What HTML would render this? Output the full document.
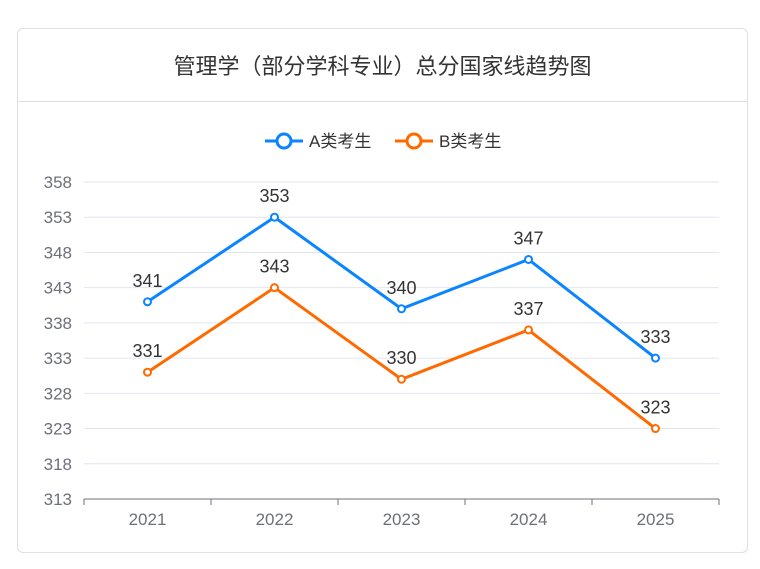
<!DOCTYPE html>
<html><head><meta charset="utf-8">
<style>
body{margin:0;background:#fff;width:760px;height:569px;overflow:hidden;font-family:"Liberation Sans","Noto Sans CJK SC",sans-serif;}
.card{position:absolute;left:17px;top:28px;width:731px;height:525px;border:1px solid #dcdfe6;border-radius:6px;box-sizing:border-box;}
.title{position:absolute;left:0;top:0;width:100%;height:72px;line-height:76px;text-align:center;font-size:22px;color:#333;border-bottom:1px solid #dcdfe6;}
svg{position:absolute;left:0;top:0;}
</style></head><body>
<div class="card">
<div class="title">管理学（部分学科专业）总分国家线趋势图</div>
</div>
<svg id="c" width="760" height="569"></svg>
<script>
const categories=["2021","2022","2023","2024","2025"];
const seriesA=[341,353,340,347,333];
const seriesB=[331,343,330,337,323];
const yTicks=[313,318,323,328,333,338,343,348,353,358];
const seriesNames=["A类考生","B类考生"];
const colors=["#0a84ff","#ff6a00"];
const svg=document.getElementById('c');
const NS='http://www.w3.org/2000/svg';
const x0=84,x1=719,yTop=182,yBot=499,ymin=313,ymax=358;
const band=(x1-x0)/categories.length;
const xS=i=>x0+band*(i+0.5);
const yS=v=>yBot-(v-ymin)/(ymax-ymin)*(yBot-yTop);
function mk(t,a,txt){const e=document.createElementNS(NS,t);for(const k in a)e.setAttribute(k,a[k]);if(txt!==undefined)e.textContent=txt;svg.appendChild(e);return e;}
yTicks.forEach(v=>{
 const y=yS(v);
 if(v!==ymin){const g=mk('line',{x1:x0,x2:x1,y1:y,y2:y,stroke:'#e0e6f1'});
 
 }
 const t=mk('text',{x:x0-12,y:y+6,'text-anchor':'end','font-size':17,fill:'#6e7079'},v);
 
 
});
const ax=mk('line',{x1:x0,x2:x1,y1:yBot,y2:yBot,stroke:'#6e7079'});


for(let i=0;i<=categories.length;i++){const x=x0+band*i;mk('line',{x1:x,x2:x,y1:yBot,y2:yBot+6,stroke:'#6e7079'});}
categories.forEach((c,i)=>{
 const t=mk('text',{x:xS(i),y:yBot+26,'text-anchor':'middle','font-size':17,fill:'#6e7079'},c);
 
 
});
[seriesA,seriesB].forEach((s,k)=>{
 const p=mk('polyline',{points:s.map((v,i)=>xS(i)+','+yS(v)).join(' '),fill:'none',stroke:colors[k],'stroke-width':3});
 
 
 s.forEach((v,i)=>{
  const c=mk('circle',{cx:xS(i),cy:yS(v),r:3.5,fill:'#fff',stroke:colors[k],'stroke-width':2});
  
  
  const t=mk('text',{x:xS(i),y:yS(v)-15,'text-anchor':'middle','font-size':18,fill:'#333'},v);
  
  
 });
});
const lx=[265,395];
seriesNames.forEach((n,k)=>{
 const g=document.createElementNS(NS,'g');svg.appendChild(g);
 
 
 const l=document.createElementNS(NS,'line');
 [['x1',lx[k]],['x2',lx[k]+38],['y1',141],['y2',141],['stroke',colors[k]],['stroke-width',3]].forEach(a=>l.setAttribute(a[0],a[1]));g.appendChild(l);
 const c=document.createElementNS(NS,'circle');
 [['cx',lx[k]+19],['cy',141],['r',7],['fill','#fff'],['stroke',colors[k]],['stroke-width',3]].forEach(a=>c.setAttribute(a[0],a[1]));g.appendChild(c);
 const t=document.createElementNS(NS,'text');
 [['x',lx[k]+44],['y',147],['font-size',17],['fill','#333']].forEach(a=>t.setAttribute(a[0],a[1]));t.textContent=n;g.appendChild(t);
});
</script>
</body></html>
